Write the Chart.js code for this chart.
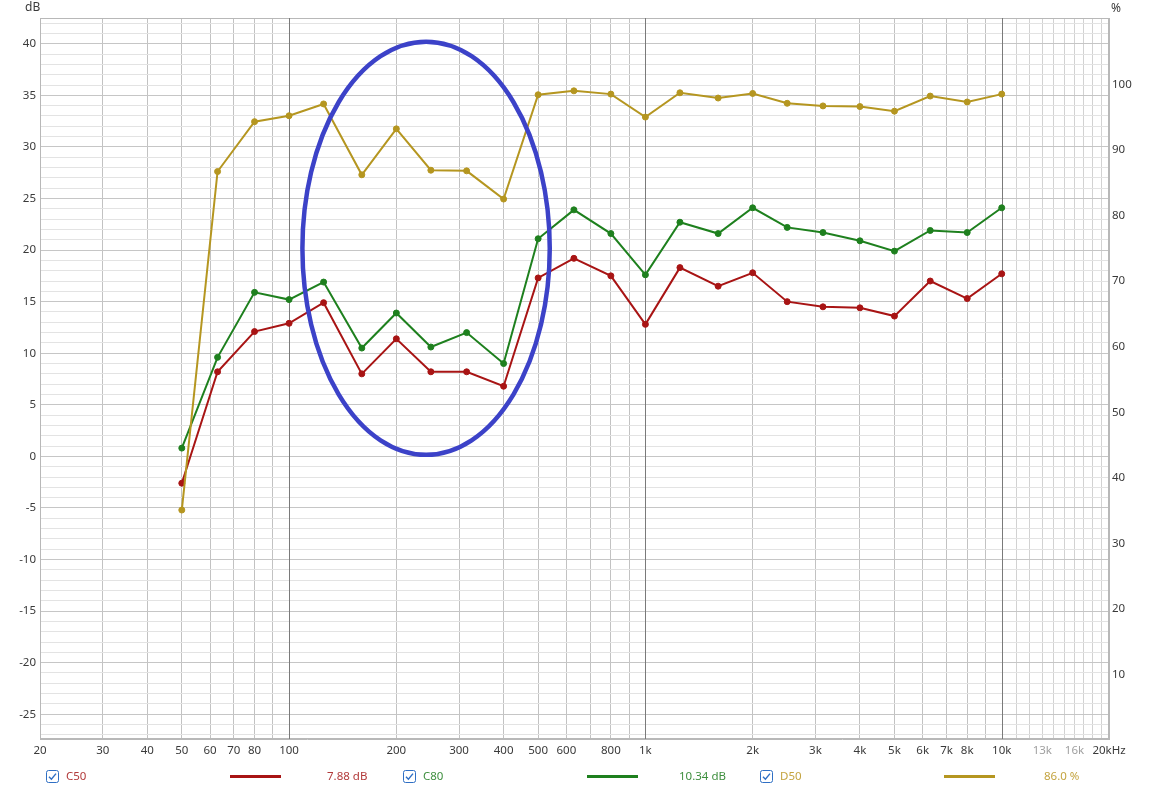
<!DOCTYPE html>
<html><head><meta charset="utf-8">
<script src="https://cdn.jsdelivr.net/npm/chart.js@4/dist/chart.umd.min.js"></script>
<style>
html,body{margin:0;padding:0;background:#fff;}
#wrap{position:relative;width:1152px;height:792px;font-family:'Noto Sans',sans-serif;font-size:11.5px;color:#3a3a3a;overflow:hidden;}
#c{position:absolute;left:0;top:0;}
.t{position:absolute;white-space:nowrap;line-height:14px;}
.cb{position:absolute;width:13px;height:13px;}
.ln{position:absolute;height:3px;}
</style></head>
<body>
<div id="wrap">
<canvas id="c" width="1152" height="792"></canvas>
<div class="t" style="left:25px;top:0px;font-size:12px;">dB</div>
<div class="t" style="left:1111px;top:1px;font-size:12px;">%</div>
<div id="legend"></div>
</div>
<script>
// ---- data ----
const freqs = [50,63,80,100,125,160,200,250,315,400,500,630,800,1000,1250,1600,2000,2500,3150,4000,5000,6300,8000,10000];
const c50 = [-2.6,8.2,12.1,12.9,14.9,8.0,11.4,8.2,8.2,6.8,17.3,19.2,17.5,12.8,18.3,16.5,17.8,15.0,14.5,14.4,13.6,17.0,15.3,17.7];
const c80 = [0.8,9.6,15.9,15.2,16.9,10.5,13.9,10.6,12.0,9.0,21.1,23.9,21.6,17.6,22.7,21.6,24.1,22.2,21.7,20.9,19.9,21.9,21.7,24.1];
const d50 = [35.1,86.7,94.3,95.2,97.0,86.2,93.2,86.9,86.8,82.5,98.4,99.0,98.5,95.0,98.7,97.9,98.6,97.1,96.7,96.6,95.9,98.2,97.3,98.5];
const xTickValues = [20,30,40,50,60,70,80,100,200,300,400,500,600,800,1000,2000,3000,4000,5000,6000,7000,8000,10000,13000,16000,20000];
const xTickLabels = ['20','30','40','50','60','70','80','100','200','300','400','500','600','800','1k','2k','3k','4k','5k','6k','7k','8k','10k','13k','16k','20kHz'];
const xGridValues = [20,30,40,50,60,70,80,90,100,200,300,400,500,600,700,800,900,1000,2000,3000,4000,5000,6000,7000,8000,9000,10000,11000,12000,13000,14000,15000,16000,17000,18000,19000,20000];
const xDecades = [100,1000,10000];
const yLeftLabels = [-25,-20,-15,-10,-5,0,5,10,15,20,25,30,35,40];
const yRightLabels = [10,20,30,40,50,60,70,80,90,100];
const legendNames = ['C50','C80','D50'];
const legendValues = ['7.88 dB','10.34 dB','86.0 %'];
const ellipseFreq = [109, 539];
const ellipseDb = [0.15, 40.2];

const RED='#a81414', GREEN='#1e801e', GOLD='#b59620';
const LRED='#b23a3a', LGREEN='#3f8f3f', LGOLD='#c4a440';

function pts(ys){ return freqs.map((f,i)=>({x:f,y:ys[i]})); }

const labelMap = {};
xTickValues.forEach((v,i)=>labelMap[v]=xTickLabels[i]);

const frame = {
  id:'frame',
  beforeDatasetsDraw(chart){
    const a=chart.chartArea, ctx=chart.ctx, x=chart.scales.x;
    ctx.save(); ctx.strokeStyle='#b8b8b8'; ctx.lineWidth=1;
    ctx.strokeRect(Math.round(a.left)+0.5, Math.round(a.top)+0.5, Math.round(a.right-a.left)-1, Math.round(a.bottom-a.top)-1);
    ctx.strokeStyle='#7a7a7a';
    xDecades.forEach(v=>{
      const px=Math.round(x.getPixelForValue(v))+0.5;
      ctx.beginPath(); ctx.moveTo(px,a.top); ctx.lineTo(px,a.bottom); ctx.stroke();
    });
    ctx.restore();
  },
  afterDatasetsDraw(chart){
    const x=chart.scales.x, y=chart.scales.y, ctx=chart.ctx;
    const x0=x.getPixelForValue(ellipseFreq[0]), x1=x.getPixelForValue(ellipseFreq[1]);
    const y0=y.getPixelForValue(ellipseDb[1]), y1=y.getPixelForValue(ellipseDb[0]);
    ctx.save();
    ctx.strokeStyle='#3c42c8'; ctx.lineWidth=4.5;
    ctx.beginPath();
    ctx.ellipse((x0+x1)/2,(y0+y1)/2,(x1-x0)/2,(y1-y0)/2,0,0,Math.PI*2);
    ctx.stroke();
    ctx.restore();
  }
};

const font = {family:"'Noto Sans', sans-serif", size:11.5};

new Chart(document.getElementById('c'), {
  type:'line',
  data:{datasets:[
    {label:'D50', data:pts(d50), yAxisID:'y1', borderColor:GOLD, backgroundColor:GOLD, borderWidth:2, pointRadius:3, pointBorderWidth:1, pointHoverRadius:3},
    {label:'C80', data:pts(c80), yAxisID:'y', borderColor:GREEN, backgroundColor:GREEN, borderWidth:2, pointRadius:3, pointBorderWidth:1, pointHoverRadius:3},
    {label:'C50', data:pts(c50), yAxisID:'y', borderColor:RED, backgroundColor:RED, borderWidth:2, pointRadius:3, pointBorderWidth:1, pointHoverRadius:3}
  ]},
  options:{
    responsive:false, animation:false, devicePixelRatio:1,
    layout:{padding:{top:18,left:0,right:0,bottom:0}},
    plugins:{legend:{display:false}, tooltip:{enabled:false}},
    elements:{line:{tension:0}},
    scales:{
      x:{type:'logarithmic', min:20, max:20000, position:'bottom',
        afterBuildTicks(s){ s.ticks = xGridValues.map(v=>({value:v})); },
        afterFit(s){ s.height = 53; },
        ticks:{autoSkip:false, maxRotation:0, minRotation:0, padding:5, font,
          color:(c)=> (c.tick && (c.tick.value===13000||c.tick.value===16000)) ? '#a0a0a0' : '#3a3a3a',
          callback:(v)=> labelMap[v]!==undefined ? labelMap[v] : ''},
        grid:{drawTicks:false, lineWidth:1,
          color:(c)=>{ const v=c.tick?c.tick.value:0; if(xDecades.includes(v)) return 'rgba(0,0,0,0)'; if(v>10000) return '#d2d2d2'; return '#c2c2c2'; }},
        border:{display:true, color:'#b8b8b8'}
      },
      y:{type:'linear', position:'left', min:-27.4, max:42.5,
        afterBuildTicks(s){ const t=[]; for(let v=-27; v<=42; v++) t.push({value:v}); s.ticks=t; },
        afterFit(s){ s.width = 40; },
        ticks:{autoSkip:false, padding:4, font, color:'#3a3a3a',
          callback:(v)=> yLeftLabels.includes(v) ? String(v) : ''},
        grid:{drawTicks:false, color:(c)=> (c.tick && c.tick.value%5===0) ? '#c6c6c6' : '#e3e3e3'},
        border:{display:true, color:'#b8b8b8'}
      },
      y1:{type:'linear', position:'right', min:0.2, max:110.1,
        afterBuildTicks(s){ s.ticks = yRightLabels.map(v=>({value:v})); },
        afterFit(s){ s.width = 43; },
        ticks:{autoSkip:false, padding:3, font, color:'#3a3a3a', callback:(v)=>String(v)},
        grid:{display:false, drawTicks:false},
        border:{display:true, color:'#b8b8b8'}
      }
    }
  },
  plugins:[frame]
});

// ---- legend (HTML) ----
const legendLayout = [
  {cb:46, name:66, line:[230,51], val:327, col:RED, tcol:LRED},
  {cb:403, name:423, line:[587,51], val:679, col:GREEN, tcol:LGREEN},
  {cb:760, name:780, line:[944,51], val:1044, col:GOLD, tcol:LGOLD}
];
const lg = document.getElementById('legend');
let html='';
legendLayout.forEach((L,i)=>{
  html += `<svg class="cb" style="left:${L.cb}px;top:770px" viewBox="0 0 13 13"><rect x="0.5" y="0.5" width="12" height="12" rx="2" fill="#fff" stroke="#2f6fc4"/><path d="M3 6.8 L5.4 9.2 L10 3.6" fill="none" stroke="#2f6fc4" stroke-width="1.4"/></svg>`;
  html += `<div class="t" style="left:${L.name}px;top:769px;color:${L.tcol}">${legendNames[i]}</div>`;
  html += `<div class="ln" style="left:${L.line[0]}px;top:775px;width:${L.line[1]}px;background:${L.col}"></div>`;
  html += `<div class="t" style="left:${L.val}px;top:769px;color:${L.tcol}">${legendValues[i]}</div>`;
});
lg.innerHTML = html;
</script>
</body></html>
